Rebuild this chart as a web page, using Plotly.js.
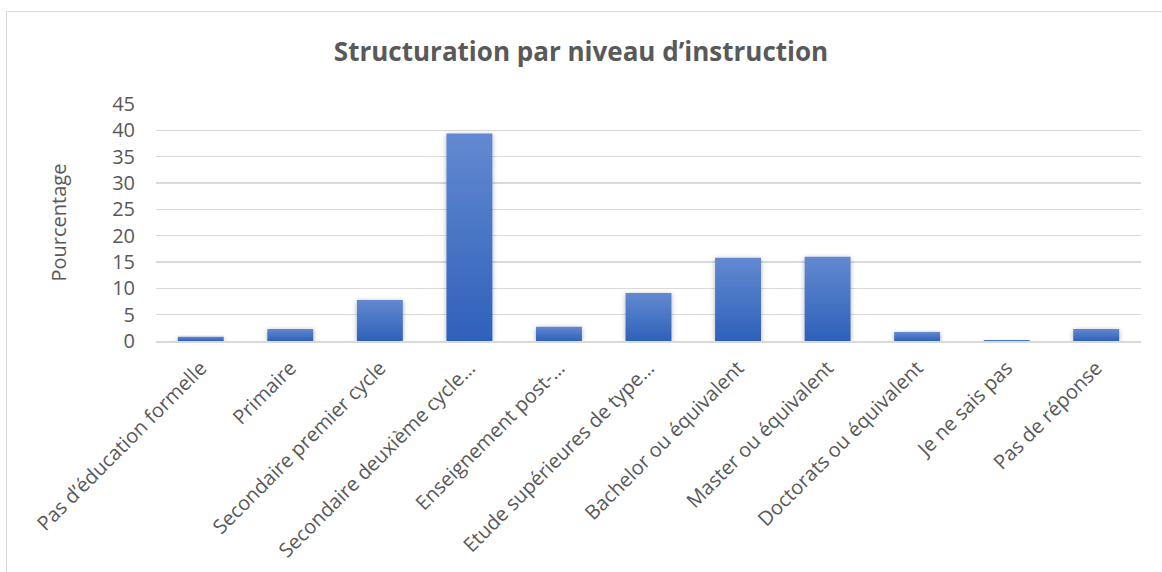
<!DOCTYPE html>
<html>
<head>
<meta charset="utf-8">
<script src="https://cdn.plot.ly/plotly-3.0.1.min.js"></script>
<style>
  html, body { margin: 0; padding: 0; background: #fff; overflow: hidden; }
  #cadre { position: absolute; left: 6px; top: 11px; width: 1170px; height: 580px;
           border: 1.5px solid #d9d9d9; box-sizing: border-box; }
  #graphique { position: absolute; left: 0; top: 0; width: 1162px; height: 572px; }
</style>
</head>
<body>
<div id="cadre"></div>
<div id="graphique"></div>
<script>
// Niveaux d'instruction (libellés tels qu'affichés, tronqués)
const niveaux = [
  'Pas d’éducation formelle',
  'Primaire',
  'Secondaire premier cycle',
  'Secondaire deuxième cycle…',
  'Enseignement post-…',
  'Etude supérieures de type…',
  'Bachelor ou équivalent',
  'Master ou équivalent',
  'Doctorats ou équivalent',
  'Je ne sais pas',
  'Pas de réponse'
];

// Pourcentages
const pourcentages = [0.8, 2.3, 7.8, 39.4, 2.7, 9.1, 15.8, 16.0, 1.7, 0.2, 2.3];

const graduations = [0, 5, 10, 15, 20, 25, 30, 35, 40, 45];

const police = '"Open Sans", "Noto Sans", sans-serif';
const gris = '#595959';

const trace = {
  x: niveaux,
  y: pourcentages,
  type: 'bar',
  marker: { color: '#4472c4' },
  hoverinfo: 'x+y'
};

const layout = {
  width: 1162,
  height: 572,
  paper_bgcolor: 'rgba(0,0,0,0)',
  plot_bgcolor: 'rgba(0,0,0,0)',
  margin: { l: 156, r: 21, t: 104, b: 231 },
  bargap: 0.487,
  showlegend: false,
  font: { family: police, color: gris },
  title: {
    text: '<b>Structuration par niveau d’instruction</b>',
    font: { family: police, size: 26, color: gris },
    x: 0.5, xanchor: 'center',
    y: 1 - 52 / 572, yref: 'container', yanchor: 'middle'
  },
  xaxis: {
    type: 'category',
    tickangle: -45,
    tickfont: { size: 20, color: gris },
    showgrid: false,
    showline: true,
    linecolor: '#d9d9d9',
    linewidth: 1.5,
    ticks: '',
    ticklabelstandoff: 6
  },
  yaxis: {
    range: [0, 45],
    tickvals: graduations,
    tickfont: { size: 20, color: gris },
    showgrid: true,
    gridcolor: '#d9d9d9',
    gridwidth: 1.3,
    zeroline: false,
    showline: false,
    ticks: '',
    ticklabelstandoff: 20,
    title: {
      text: 'Pourcentage',
      font: { size: 20, color: gris },
      standoff: 40
    }
  }
};

Plotly.newPlot('graphique', [trace], layout, { displayModeBar: false, staticPlot: true }).then(gd => {
  // dégradé vertical + légère ombre des barres, comme dans le graphique d'origine
  const svg = gd.querySelector('svg.main-svg');
  const ns = 'http://www.w3.org/2000/svg';
  let defs = svg.querySelector('defs');
  if (!defs) { defs = document.createElementNS(ns, 'defs'); svg.prepend(defs); }
  const grad = document.createElementNS(ns, 'linearGradient');
  grad.setAttribute('id', 'degrade-barres');
  grad.setAttribute('x1', '0'); grad.setAttribute('y1', '0');
  grad.setAttribute('x2', '0'); grad.setAttribute('y2', '1');
  [['0', '#6389d1'], ['1', '#2e61ba']].forEach(([o, c]) => {
    const stop = document.createElementNS(ns, 'stop');
    stop.setAttribute('offset', o);
    stop.setAttribute('stop-color', c);
    grad.appendChild(stop);
  });
  defs.appendChild(grad);
  const ombre = document.createElementNS(ns, 'filter');
  ombre.setAttribute('id', 'ombre-barres');
  ombre.setAttribute('x', '-20%'); ombre.setAttribute('y', '-20%');
  ombre.setAttribute('width', '140%'); ombre.setAttribute('height', '140%');
  ombre.innerHTML = '<feDropShadow dx="0" dy="1" stdDeviation="2.5" flood-color="#000" flood-opacity="0.3"/>';
  defs.appendChild(ombre);
  gd.querySelectorAll('.bars .point path').forEach(p => {
    p.style.fill = 'url(#degrade-barres)';
    p.setAttribute('filter', 'url(#ombre-barres)');
  });
});
</script>
</body>
</html>
